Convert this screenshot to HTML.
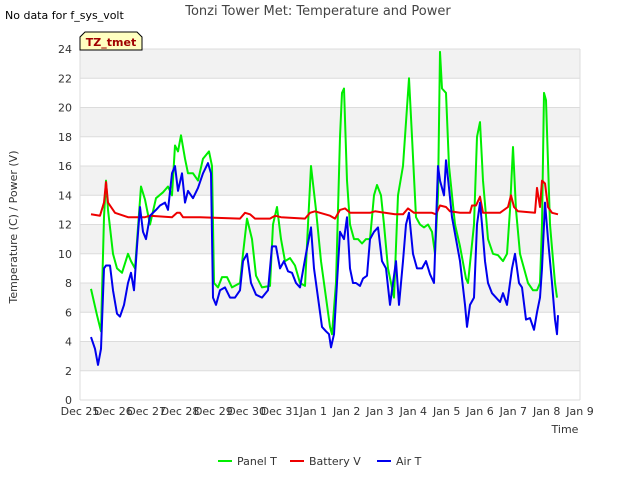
<!DOCTYPE html>
<html><head><meta charset="utf-8"><style>
body{margin:0;background:#fff;font-family:"Liberation Sans","DejaVu Sans",sans-serif}
svg text{font-family:"DejaVu Sans","Liberation Sans",sans-serif}
</style></head><body>
<svg id="chart" width="640" height="480" xmlns="http://www.w3.org/2000/svg">
<rect width="640" height="480" fill="#fff"/>
<g id="bands"></g><g id="grid"></g><g id="axes"></g><g id="series"></g>
<text x="318" y="15" text-anchor="middle" font-size="13" fill="#444">Tonzi Tower Met: Temperature and Power</text>
<text x="5" y="19" font-size="11" fill="#000">No data for f_sys_volt</text>
<g>
<path d="M80,50 L80,37 L85,32 L137,32 L142,37 L142,50 Z" fill="#ffffc0" stroke="#000" stroke-width="1"/>
<text x="111" y="46" text-anchor="middle" font-size="11" font-weight="bold" fill="#a00000">TZ_tmet</text></g>
<text transform="translate(17,227) rotate(-90)" text-anchor="middle" font-size="11" fill="#333">Temperature (C) / Power (V)</text>
<text x="565" y="433" text-anchor="middle" font-size="11" fill="#333">Time</text>
<g>
<g><line x1="218" y1="461" x2="232" y2="461" stroke="#00ee00" stroke-width="2"/><text x="237" y="465" font-size="11" fill="#333">Panel T</text></g>
<g><line x1="290" y1="461" x2="304" y2="461" stroke="#ee0000" stroke-width="2"/><text x="309" y="465" font-size="11" fill="#333">Battery V</text></g>
<g><line x1="377" y1="461" x2="391" y2="461" stroke="#0000ee" stroke-width="2"/><text x="396" y="465" font-size="11" fill="#333">Air T</text></g>
</g>
</svg>
<script>
const xTickLabels=["Dec 25","Dec 26","Dec 27","Dec 28","Dec 29","Dec 30","Dec 31","Jan 1","Jan 2","Jan 3","Jan 4","Jan 5","Jan 6","Jan 7","Jan 8","Jan 9"];
const yTicks=[0,2,4,6,8,10,12,14,16,18,20,22,24];
const panelT_t=[.33,.51,.63,.72,.78,.84,.99,1.11,1.26,1.44,1.53,1.65,1.83,1.95,2.10,2.28,2.49,2.64,2.76,2.85,2.94,3.03,3.15,3.24,3.39,3.54,3.69,3.87,3.96,4.02,4.14,4.26,4.41,4.56,4.80,4.89,5.01,5.16,5.28,5.46,5.70,5.79,5.91,6.03,6.15,6.30,6.45,6.60,6.75,6.84,6.93,7.08,7.23,7.38,7.50,7.56,7.68,7.80,7.86,7.92,8.01,8.10,8.22,8.34,8.46,8.58,8.70,8.82,8.91,9.03,9.12,9.24,9.33,9.42,9.54,9.69,9.78,9.87,9.96,10.08,10.20,10.32,10.44,10.56,10.65,10.74,10.80,10.86,10.98,11.07,11.25,11.40,11.58,11.64,11.73,11.82,11.91,12.00,12.09,12.24,12.39,12.54,12.69,12.81,12.90,12.99,13.08,13.20,13.32,13.44,13.59,13.71,13.80,13.86,13.92,13.98,14.10,14.25,14.31];
const panelT=[7.6,5.8,4.7,12.5,15,13,10,9,8.7,10,9.5,9,14.6,13.7,12,13.8,14.2,14.6,14,17.4,17,18.1,16.5,15.5,15.5,15,16.5,17,16,8,7.7,8.4,8.4,7.7,8,10,12.4,11,8.5,7.7,7.8,12,13.2,11,9.5,9.7,9.2,8,7.8,12,16,13,9.5,7,5,4.5,8,18,21,21.3,15,12,11,11,10.7,11,11,14,14.7,14,12,9,8,7,14,16,19,22,18,12.5,12,11.8,12,11.5,10,14,23.8,21.3,21,16,12,10.5,8.3,8,10,12,18,19,15,11,10,9.9,9.5,10,13,17.3,13,10,9,8,7.5,7.5,8,12,21,20.5,12,8,7];
const batt_t=[.33,.60,.72,.78,.84,1.05,1.44,1.95,2.10,2.76,2.91,3.00,3.09,3.60,4.80,4.95,5.10,5.25,5.70,5.85,6.03,6.75,6.90,7.05,7.20,7.50,7.65,7.80,7.95,8.10,8.70,8.85,9.15,9.45,9.69,9.84,10.02,10.56,10.68,10.80,10.98,11.10,11.40,11.70,11.76,11.88,12.00,12.09,12.60,12.84,12.93,13.02,13.14,13.65,13.71,13.80,13.86,13.95,14.04,14.16,14.34];
const battV=[12.7,12.6,13.5,14.9,13.5,12.8,12.5,12.5,12.6,12.5,12.8,12.8,12.5,12.5,12.4,12.8,12.7,12.4,12.4,12.6,12.5,12.4,12.8,12.9,12.8,12.6,12.4,13,13.1,12.8,12.8,12.9,12.8,12.7,12.7,13.1,12.8,12.8,12.7,13.3,13.2,12.9,12.8,12.8,13.3,13.3,13.9,12.8,12.8,13.2,14,13.2,12.9,12.8,14.5,13.2,15,14.8,13.2,12.8,12.7];
const air_t=[.33,.45,.54,.63,.72,.78,.90,.99,1.11,1.20,1.32,1.44,1.53,1.62,1.71,1.80,1.89,1.98,2.10,2.28,2.40,2.55,2.64,2.76,2.85,2.94,3.06,3.15,3.24,3.39,3.54,3.69,3.84,3.93,3.99,4.08,4.20,4.35,4.50,4.65,4.80,4.89,5.01,5.13,5.28,5.46,5.64,5.76,5.88,6.00,6.12,6.24,6.36,6.48,6.60,6.78,6.93,7.02,7.14,7.26,7.38,7.47,7.53,7.62,7.71,7.80,7.92,8.01,8.10,8.19,8.28,8.40,8.49,8.61,8.70,8.82,8.94,9.06,9.18,9.30,9.39,9.48,9.57,9.69,9.78,9.87,9.99,10.11,10.26,10.38,10.50,10.62,10.74,10.80,10.92,10.98,11.07,11.16,11.28,11.40,11.55,11.61,11.70,11.82,11.91,12.00,12.06,12.15,12.24,12.36,12.48,12.60,12.69,12.81,12.96,13.05,13.17,13.26,13.38,13.50,13.62,13.71,13.80,13.86,13.95,14.04,14.16,14.25,14.31,14.34];
const airT=[4.3,3.5,2.4,3.5,9,9.2,9.2,7.5,5.9,5.7,6.5,8,8.7,7.5,10.5,13.2,11.5,11,12.6,13,13.3,13.5,13,15.5,16,14.3,15.5,13.5,14.3,13.8,14.5,15.5,16.2,15.5,7,6.5,7.5,7.7,7,7,7.5,9.5,10,8,7.2,7,7.5,10.5,10.5,9,9.5,8.8,8.7,8,7.7,10,11.8,9,7,5,4.7,4.5,3.6,4.5,8,11.5,11,12.5,9,8,8,7.8,8.3,8.5,11,11.5,11.8,9.5,9,6.5,8,9.5,6.5,9.5,12,12.8,10,9,9,9.5,8.6,8,16,15,14,16.4,14.5,12.5,11,9.5,6.5,5,6.5,7,12,13.5,12,9.5,8,7.3,7,6.7,7.3,6.5,9,10,8,7.7,5.5,5.6,4.8,6,7,9,13.5,11,8,5.5,4.5,5.8];

const NS="http://www.w3.org/2000/svg";
const X0=80,X1=580,Y0=400,Y1=49;
const xs=t=>X0+(X1-X0)*t/15;
const ys=v=>Y0-(Y0-Y1)*v/24;
function mk(tag,attrs,parent){const e=document.createElementNS(NS,tag);for(const k in attrs)e.setAttribute(k,attrs[k]);parent.appendChild(e);return e;}
const bands=document.getElementById('bands'),grid=document.getElementById('grid'),axes=document.getElementById('axes'),series=document.getElementById('series');
for(let i=0;i<yTicks.length-1;i++){
  if(i%2===1){const r=mk('rect',{x:X0,y:ys(yTicks[i+1]),width:X1-X0,height:ys(yTicks[i])-ys(yTicks[i+1]),fill:'#f2f2f2'},bands);
  
  }
}
yTicks.forEach(v=>{
  const l=mk('line',{x1:X0,x2:X1,y1:ys(v),y2:ys(v),stroke:'#dcdcdc','stroke-width':1},grid);
  
  
  const t=mk('text',{x:X0-8,y:ys(v)+4,'text-anchor':'end','font-size':11,fill:'#333'},axes);
  t.textContent=v;
  
  
});
mk('line',{x1:X1,x2:X1,y1:Y1,y2:Y0,stroke:'#dcdcdc'},grid);
mk('line',{x1:X0,x2:X0,y1:Y1,y2:Y0,stroke:'#dcdcdc'},grid);
xTickLabels.forEach((s,i)=>{
  const t=mk('text',{x:xs(i),y:Y0+15,'text-anchor':'middle','font-size':11,fill:'#333'},axes);
  t.textContent=s;
  
  
});
function line(tt,vv,color,name){
  const d=tt.map((t,i)=>(i?'L':'M')+xs(t).toFixed(1)+','+ys(vv[i]).toFixed(1)).join('');
  const p=mk('path',{d:d,fill:'none',stroke:color,'stroke-width':2,'stroke-linejoin':'round'},series);
  
  
}
line(panelT_t,panelT,'#00ee00','panel-t-line');
line(batt_t,battV,'#ee0000','battery-v-line');
line(air_t,airT,'#0000ee','air-t-line');
</script>
</body></html>
